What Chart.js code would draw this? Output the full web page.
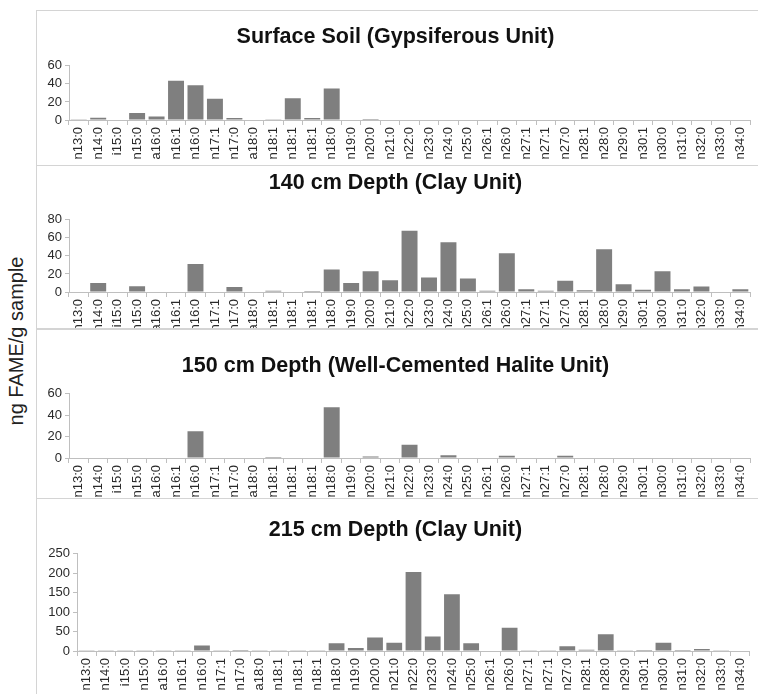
<!DOCTYPE html>
<html>
<head>
<meta charset="utf-8">
<script src="https://cdn.jsdelivr.net/npm/chart.js@4.4.1/dist/chart.umd.min.js"></script>
<style>
  html, body { margin: 0; padding: 0; background: #fff; }
  #wrap { position: relative; width: 758px; height: 694px; overflow: hidden; }
  .panel { position: absolute; left: 36px; width: 722px; border-left: 1px solid #d4d4d4; box-sizing: border-box; }
  .panel canvas { display: block; }
  .sep { position: absolute; left: 36px; width: 722px; background: #d4d4d4; }
  #ytitle {
    position: absolute; left: 16px; top: 341px;
    transform: translate(-50%, -50%) rotate(-90deg);
    font-family: "Liberation Sans", Arial, sans-serif; font-size: 20px; color: #222;
    white-space: nowrap;
  }
</style>
</head>
<body>
<div id="wrap">
  <div id="ytitle">ng FAME/g sample</div>
  <div class="panel" style="top:11px;height:155px"><canvas id="c1"></canvas></div>
  <div class="panel" style="top:166px;height:163px"><canvas id="c2"></canvas></div>
  <div class="panel" style="top:329px;height:170px"><canvas id="c3"></canvas></div>
  <div class="panel" style="top:499px;height:195px"><canvas id="c4"></canvas></div>
  <div class="sep" style="top:10px;height:1px"></div>
  <div class="sep" style="top:165px;height:1px"></div>
  <div class="sep" style="top:328px;height:2px"></div>
  <div class="sep" style="top:498px;height:1px"></div>
</div>
<script>
const categories = ['n13:0', 'n14:0', 'i15:0', 'n15:0', 'a16:0', 'n16:1', 'n16:0', 'n17:1', 'n17:0', 'a18:0',
  'n18:1', 'n18:1', 'n18:1', 'n18:0', 'n19:0', 'n20:0', 'n21:0', 'n22:0', 'n23:0', 'n24:0',
  'n25:0', 'n26:1', 'n26:0', 'n27:1', 'n27:1', 'n27:0', 'n28:1', 'n28:0', 'n29:0', 'n30:1',
  'n30:0', 'n31:0', 'n32:0', 'n33:0', 'n34:0'];

const surfaceSoil = [0.7, 2.5, 0, 7.7, 4, 43.5, 38.4, 23.4, 2.2, 0,
  0.7, 24, 2.2, 35, 0, 1, 0, 0, 0, 0,
  0, 0, 0, 0, 0, 0, 0, 0, 0, 0,
  0, 0, 0, 0, 0];

const depth140 = [0, 10, 0, 6.5, 0, 0, 31, 0, 5.5, 0,
  1.5, 0, 1, 25, 10, 23, 13, 68, 16, 55,
  15, 1.5, 43, 3, 1.5, 12.5, 2, 47.5, 8.5, 2.5,
  23, 3, 6, 0.5, 3];

const depth150 = [0, 0, 0, 0, 0, 0, 25, 0, 0, 0,
  1, 0, 0, 47.5, 0, 1.5, 0, 12.5, 0, 2.5,
  0.5, 0, 2, 0, 0, 2, 0, 0, 0.5, 0,
  0, 0, 0, 0, 0];

const depth215 = [0.5, 0.5, 0.5, 0.5, 0.5, 0.5, 14, 0.5, 2.5, 0.5,
  0.5, 0.5, 0.5, 20, 8, 34.5, 21.5, 203, 37, 146,
  20, 0, 60, 0.5, 0.5, 12, 3.5, 43, 0.5, 2.5,
  21.5, 2.5, 5, 0.5, 1.5];

const titles = [
  'Surface Soil (Gypsiferous Unit)',
  '140 cm Depth (Clay Unit)',
  '150 cm Depth (Well-Cemented Halite Unit)',
  '215 cm Depth (Clay Unit)'
];
const yMax = [60, 80, 60, 250];
const yStep = [20, 20, 20, 50];

// layout per panel: title padding above / below, y axis width, x axis height
const panels = [
  { id: 'c1', data: surfaceSoil, padTop: 13, padBottom: 16, yWidth: 32, xHeight: 46 },
  { id: 'c2', data: depth140, padTop: 4, padBottom: 24, yWidth: 32, xHeight: 37 },
  { id: 'c3', data: depth150, padTop: 24, padBottom: 15, yWidth: 32, xHeight: 41 },
  { id: 'c4', data: depth215, padTop: 18, padBottom: 11, yWidth: 40, xHeight: 43 }
];

const axisColor = '#bfbfbf';
const font = 'Liberation Sans, Arial, sans-serif';

panels.forEach((p, i) => {
  const ctx = document.getElementById(p.id).getContext('2d');
  new Chart(ctx, {
    type: 'bar',
    data: {
      labels: categories,
      datasets: [{
        data: p.data,
        backgroundColor: '#7f7f7f',
        borderWidth: 0,
        barPercentage: 0.82,
        categoryPercentage: 1
      }]
    },
    options: {
      responsive: true,
      maintainAspectRatio: false,
      animation: false,
      layout: { padding: { left: 0, right: 4, top: 0, bottom: 0 } },
      plugins: {
        legend: { display: false },
        tooltip: { enabled: false },
        title: {
          display: true,
          text: titles[i],
          color: '#111',
          font: { family: font, size: 21.5, weight: 'bold', lineHeight: 1.2 },
          padding: { top: p.padTop, bottom: p.padBottom }
        }
      },
      scales: {
        x: {
          afterFit: (scale) => { scale.height = p.xHeight; },
          border: { color: axisColor, width: 1 },
          grid: { offset: true, drawOnChartArea: false, color: axisColor, tickLength: 5 },
          ticks: {
            autoSkip: false, maxRotation: 90, minRotation: 90, padding: 2,
            color: '#2a2a2a', font: { family: font, size: 13 }
          }
        },
        y: {
          min: 0,
          max: yMax[i],
          afterFit: (scale) => { scale.width = p.yWidth; },
          border: { color: axisColor, width: 1 },
          grid: { drawOnChartArea: false, color: axisColor, tickLength: 4 },
          ticks: {
            autoSkip: false, stepSize: yStep[i], padding: 3,
            color: '#2a2a2a', font: { family: font, size: 13 }
          }
        }
      }
    }
  });
});
</script>
</body>
</html>
